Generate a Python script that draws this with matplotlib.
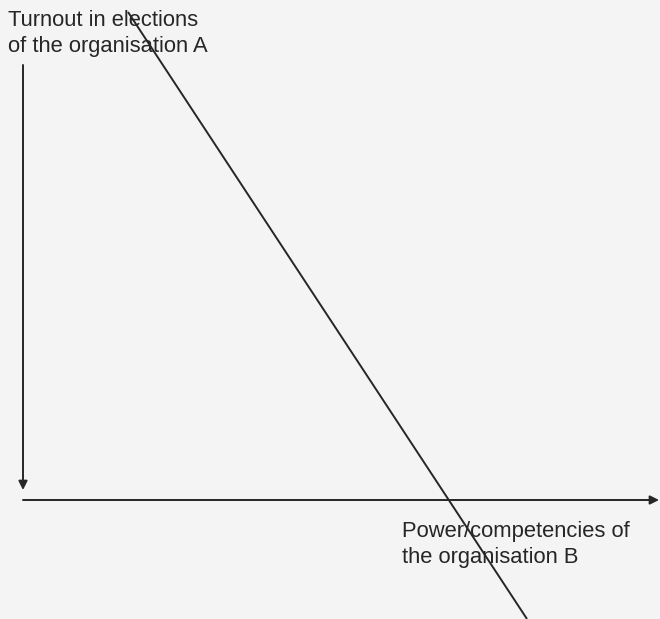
import matplotlib
matplotlib.use("Agg")
import matplotlib.pyplot as plt

# Schematic diagram, coordinates in image pixels (origin top-left)
y_axis_x = [23, 23]
y_axis_y = [65, 490]
x_axis_x = [23, 659]
x_axis_y = [500, 500]
trend_x = [128, 527]
trend_y = [12, 619]

y_label = "Turnout in elections\nof the organisation A"
x_label = "Power/competencies of\nthe organisation B"

fig = plt.figure(figsize=(6.6, 6.19), dpi=100)
fig.patch.set_facecolor("#f4f4f4")
ax = fig.add_axes([0, 0, 1, 1])
ax.set_facecolor("#f4f4f4")
ax.set_xlim(0, 660)
ax.set_ylim(619, 0)
ax.axis("off")

line_color = "#262626"
arrow = dict(arrowstyle="-|>", color=line_color, lw=1.4, mutation_scale=13,
             shrinkA=0, shrinkB=0)
ax.annotate("", xy=(y_axis_x[1], y_axis_y[1]), xytext=(y_axis_x[0], y_axis_y[0]),
            arrowprops=arrow)
ax.annotate("", xy=(x_axis_x[1], x_axis_y[1]), xytext=(x_axis_x[0], x_axis_y[0]),
            arrowprops=arrow)
ax.plot(trend_x, trend_y, color=line_color, lw=1.4, solid_capstyle="butt")

text_kw = dict(fontsize=15.8, family="Liberation Sans", color="#262626",
               va="top", ha="left", linespacing=1.3)
ax.text(8, 10, y_label, **text_kw)
ax.text(402, 521, x_label, **text_kw)

fig.savefig("out.png", dpi=100, facecolor=fig.get_facecolor())
